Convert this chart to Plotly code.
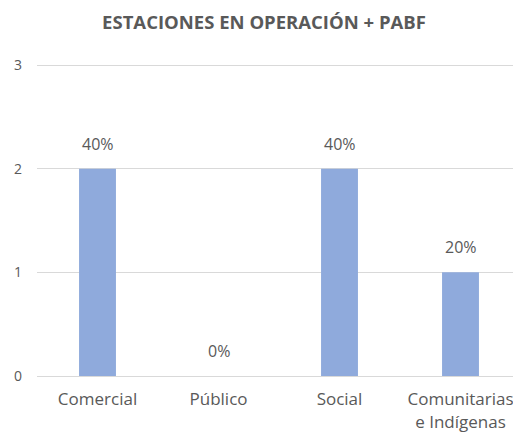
import plotly.graph_objects as go

categories = ["Comercial", "Público", "Social", "Comunitarias<br>e Indígenas"]
values = [2, 0, 2, 1]
labels = ["40%", "0%", "40%", "20%"]
y_ticks = [0, 1, 2, 3]

gray = "#595959"
W, H = 513, 431
fig = go.Figure()
fig.add_trace(go.Bar(
    x=categories, y=values, marker_color="#8FAADC", width=0.305,
    marker_line_width=0, hoverinfo="skip",
))
for c, v, t in zip(categories, values, labels):
    fig.add_annotation(x=c, y=v, text=t, showarrow=False, yanchor="bottom",
                       yshift=12, font=dict(size=16, color=gray, family="Open Sans"))

fig.update_layout(
    width=W, height=H,
    margin=dict(l=29, r=0, t=56, b=63),
    paper_bgcolor="white", plot_bgcolor="white",
    title=dict(text="<b>ESTACIONES EN OPERACIÓN + PABF</b>", x=(264 - 8) / W, xanchor="center",
               xref="container",
               y=1 - 15 / H, yanchor="middle",
               font=dict(size=18.5, color=gray, family="Open Sans")),
    showlegend=False,
    font=dict(family="Open Sans", color=gray),
)
fig.update_yaxes(range=[0, 3.01], tickvals=y_ticks, showgrid=True, gridcolor="#D9D9D9",
                 gridwidth=1, zeroline=False, showline=False,
                 tickfont=dict(size=14, color=gray), ticklabelstandoff=14)
fig.update_xaxes(showline=True, linecolor="#D9D9D9", linewidth=1, ticks="",
                 tickfont=dict(size=17, color=gray), ticklabelstandoff=8)
fig.write_html("out.html")
